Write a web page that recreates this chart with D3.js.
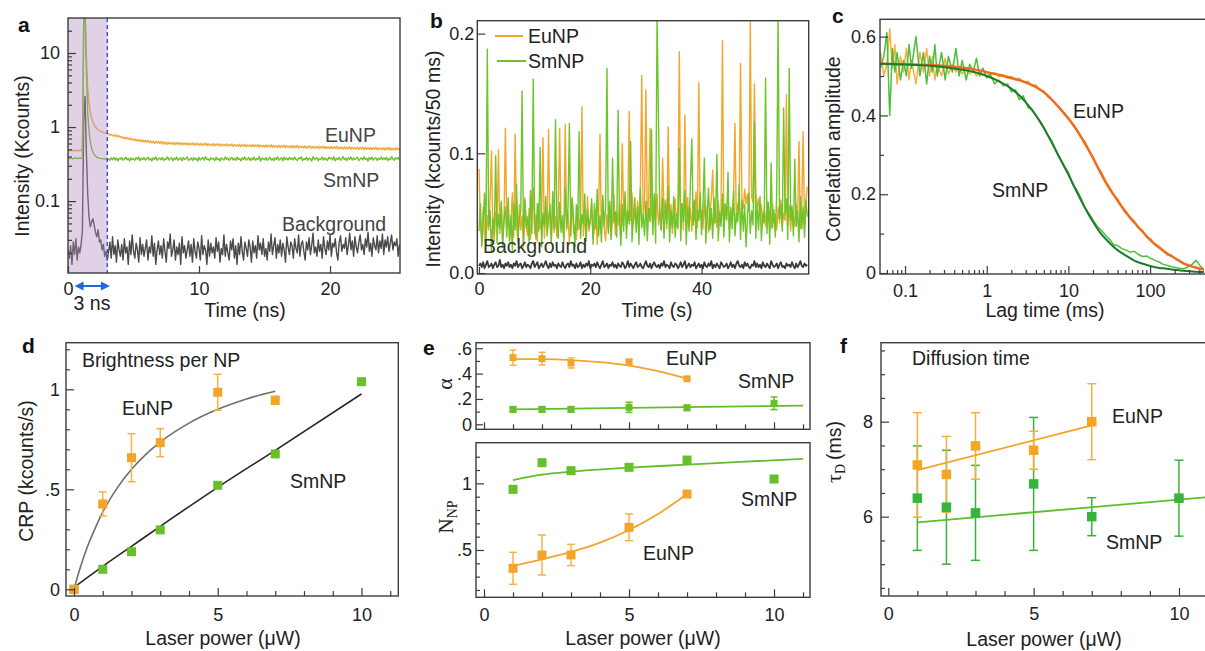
<!DOCTYPE html>
<html><head><meta charset="utf-8">
<script src="https://cdn.jsdelivr.net/npm/d3@7"></script>
<style>html,body{margin:0;padding:0;background:#fff;overflow:hidden}</style>
</head><body>
<script>
// ================= DATA =================
// (a) time-resolved emission, 0.1 ns bins, counts (1 Kcount = 1000)
const BIN_A = 0.1;
const decayEu = [485,478,490,482,476,488,480,483,479,486,481,
500,28000,40000,9000,3500,2100,1600,1330,1170,1070,1000,955,920,895,875,860,845,835,822,810,
812,775,801,760,790,748,779,738,762,726,
741,703,730,690,722,682,711,671,698,664,
692,648,681,640,676,633,669,628,662,625,
658,615,650,610,646,604,641,608,637,601,
638,592,630,588,627,583,622,590,618,585,
622,578,615,584,620,575,612,581,608,577,
610,572,604,579,611,568,603,575,599,570,
604,565,598,571,606,560,595,567,590,563,
597,558,591,566,599,553,588,561,585,557,
590,552,584,559,593,547,581,555,578,550,
584,546,578,553,587,541,575,549,572,544,
579,540,573,548,581,536,570,544,566,539,
573,535,567,542,576,530,564,538,561,533,
568,529,562,537,570,525,559,533,555,528,
562,524,557,531,565,520,553,528,550,522,
557,518,551,526,559,514,548,522,544,517,
552,513,546,520,554,509,543,517,539,511,
546,508,541,515,549,504,537,512,534,506,
541,503,536,510,544,499,532,507,529,501,
537,498,531,505,539,494,528,502,525,497,
533,494,527,501,535,490,524,498,521,493,
530,490,524,497,532,487,521,494,518,489,
527,492,515];
const decaySm = [380,376,384,378,372,386,379,381,374,383,377,
395,26000,36000,6000,1600,900,640,520,460,425,405,392,385,380,377,375,373,372,371,370,
371,356,385,362,390,359,381,350,377,368,
389,355,370,392,361,379,348,383,364,375,
357,386,366,394,352,378,362,388,358,374,
391,360,377,349,384,367,395,356,372,381,
362,389,353,376,366,397,358,374,386,351,
380,363,393,356,371,385,350,388,365,376,
396,355,368,382,353,387,364,378,347,390,
360,375,389,357,398,364,373,352,384,369,
379,351,392,361,375,348,386,370,358,395,
366,382,354,373,389,359,378,355,393,364,
375,350,384,367,394,358,371,389,353,380,
362,393,357,374,366,399,349,381,372,360,
388,355,370,391,359,377,352,386,365,396,
357,372,385,350,394,363,379,359,389,368,
381,361,393,366,354,386,373,397,351,375,
363,390,356,380,371,348,398,361,377,387,
352,375,366,392,358,383,369,355,391,372,
385,359,396,351,378,364,389,357,373,399,
362,380,353,387,368,394,358,382,364,376,
391,352,373,384,360,397,366,379,347,388,
367,393,358,376,386,354,380,364,395,361,
383,365,390,352,377,362,398,370,357,386,
369,388,361];
const decayBg = [22,17,25,14,28,19,31,16,24,20,26,
40,1200,2600,480,130,62,45,52,58,47,38,33,41,28,30,22,26,18,21,16,
21,28,17,33,19,25,15,30,22,18,
26,16,31,20,24,14,29,19,35,21,
17,27,22,15,32,19,26,18,23,30,
16,24,20,34,18,27,14,22,29,19,
25,17,31,21,15,28,23,36,18,22,
30,16,24,19,27,14,33,20,25,17,
22,29,18,26,15,31,21,17,28,23,
16,34,19,25,22,14,30,18,27,20,
24,17,32,21,28,15,23,19,35,18,
26,20,16,29,22,31,17,25,14,27,
19,33,21,16,28,23,18,30,24,15,
29,20,25,17,34,22,27,19,31,18,
23,16,28,21,36,19,25,32,17,26,
20,30,18,27,22,15,33,24,19,28,
25,17,31,23,20,35,18,26,29,21,
16,28,22,32,19,25,37,20,24,18,
30,21,26,17,33,23,19,29,22,35,
18,27,24,31,20,16,28,34,21,26,
23,32,19,25,37,22,29,18,33,24,
20,28,35,22,26,19,31,24,38,21,
27,18,32,25,22,34,20,29,23,36,
19,30,24,33,21,27,35,22,28,25,
31,18,26];

// (b) intensity traces, 0.25 s sampling, counts per 50 ms (1 kcount = 1000)
const BIN_B = 0.25;
const traceEu = [87,42,28,55,31,24,48,36,62,102,35,27,51,40,103,33,58,29,45,121,
38,52,26,44,67,30,116,41,25,57,36,48,22,63,39,31,54,28,46,71,
33,49,26,58,37,44,113,29,52,35,120,41,27,60,34,47,30,55,121,38,
43,28,124,36,51,25,47,62,33,40,28,56,37,45,139,31,50,27,64,35,
42,58,29,36,53,24,47,116,33,61,38,27,49,35,57,30,44,66,32,51,
40,58,36,108,47,62,39,55,135,44,67,41,52,38,60,45,71,165,48,57,
153,42,63,121,50,38,58,45,66,40,53,36,96,49,61,37,122,44,57,33,
48,62,39,55,185,43,58,36,132,47,63,40,54,35,59,44,68,38,159,46,
52,37,61,43,56,34,49,63,86,41,55,38,60,45,51,194,39,57,44,62,
36,53,47,65,125,42,58,49,175,61,54,70,58,66,52,210,63,59,158,68,
55,62,48,57,41,53,39,60,45,52,37,58,43,49,36,55,42,61,38,50,
44,149,40,56,35,52,47,39,58,43,110,37,54,118,41,60,72];
const traceSm = [35,58,22,41,67,28,187,39,52,18,46,33,98,25,49,37,60,21,44,55,
30,63,27,48,19,57,36,74,29,45,52,152,24,61,38,47,26,69,33,162,
42,28,58,35,105,22,50,39,64,31,46,57,25,68,37,128,43,29,59,34,
48,26,72,38,55,125,31,63,44,22,57,36,118,29,49,41,66,27,53,38,
45,62,24,58,37,70,31,48,26,65,39,54,171,33,60,28,96,42,51,30,
136,44,23,57,35,68,29,52,41,110,26,46,63,34,55,24,71,38,49,31,
60,27,54,43,120,32,66,25,215,132,47,36,62,29,57,41,73,26,52,38,
64,30,49,37,104,27,58,43,69,24,55,35,76,112,40,61,28,53,44,67,
32,57,96,25,48,71,36,54,29,63,42,99,27,51,39,66,30,58,45,84,
26,55,37,69,31,50,43,74,28,61,35,57,22,48,67,33,52,40,126,29,
58,36,64,27,50,42,163,33,59,24,92,38,53,30,66,215,45,57,35,138,
49,62,28,171,44,56,31,95,39,52,26,64,37,55,30,61,47];
const traceBg = [6,8,5,9,4,7,10,5,6,8,4,7,9,5,6,11,5,7,4,8,
6,9,5,7,4,8,6,10,5,7,8,4,6,9,5,7,6,4,8,10,
5,7,9,4,6,8,5,7,10,6,4,8,5,9,6,7,4,8,6,5,
9,6,4,7,8,5,10,6,7,4,8,5,6,9,4,7,5,8,6,10,
4,7,6,8,5,9,6,4,7,10,5,6,8,4,7,6,9,5,7,4,
8,6,5,9,7,4,6,10,5,8,6,4,7,9,5,6,8,5,4,7,
10,6,5,8,4,7,9,6,5,7,4,8,6,10,5,7,6,4,9,6,
5,8,7,4,6,9,5,7,10,4,6,8,5,7,6,9,4,6,8,5,
7,4,9,6,5,8,6,10,4,7,5,8,6,4,9,7,5,6,8,4,
6,9,5,7,4,8,10,6,5,7,4,9,6,8,5,4,7,6,10,5,
8,5,7,4,9,6,5,8,6,4,10,7,5,6,8,4,7,9,5,6,
4,8,6,7,5,9,6,4,8,5,7,10,6,5,8,6,7];

// (c) autocorrelation: lag times (ms), measured curves and fitted curves
const lagTimes = [0.050,0.055,0.060,0.065,0.070,0.075,0.080,0.088,0.096,0.104,
0.112,0.120,0.136,0.152,0.168,0.184,0.200,0.216,0.232,0.248,
0.28,0.31,0.34,0.38,0.42,0.46,0.50,0.56,0.62,0.68,
0.75,0.82,0.9,1.0,1.1,1.25,1.4,1.6,1.8,2.0,
2.25,2.5,2.8,3.2,3.6,4.0,4.5,5.0,5.6,6.3,
7.1,8.0,9.0,10,11.3,12.7,14.3,16,18,20,
22.6,25.4,28.6,32,36,40,45,51,57,64,
72,81,91,102,115,129,145,163,183,205,
230,258,290,326,366,411,460];
const corrSm = [0.52,0.55,0.61,0.40,0.57,0.51,0.56,0.49,0.54,0.50,
0.58,0.52,0.60,0.50,0.56,0.48,0.55,0.51,0.58,0.50,
0.56,0.49,0.55,0.51,0.57,0.50,0.54,0.49,0.53,0.51,
0.545,0.50,0.52,0.495,0.505,0.48,0.49,0.475,0.48,0.46,
0.465,0.44,0.45,0.42,0.415,0.40,0.385,0.37,0.35,0.335,
0.31,0.29,0.27,0.255,0.225,0.21,0.19,0.165,0.15,0.135,
0.118,0.108,0.095,0.085,0.072,0.070,0.062,0.058,0.053,0.055,
0.047,0.042,0.043,0.037,0.032,0.028,0.022,0.019,0.016,0.014,
0.012,0.011,0.015,0.022,0.032,0.018,0.008];
const corrEu = [0.56,0.50,0.53,0.62,0.52,0.58,0.48,0.55,0.51,0.57,
0.49,0.54,0.48,0.56,0.51,0.57,0.50,0.55,0.49,0.53,
0.50,0.545,0.505,0.53,0.51,0.525,0.505,0.52,0.505,0.515,
0.50,0.512,0.503,0.51,0.502,0.508,0.498,0.503,0.494,0.499,
0.49,0.495,0.484,0.487,0.475,0.478,0.463,0.462,0.447,0.44,
0.427,0.418,0.402,0.394,0.376,0.364,0.345,0.334,0.31,0.296,
0.27,0.256,0.232,0.218,0.198,0.188,0.168,0.157,0.14,0.132,
0.114,0.108,0.09,0.087,0.07,0.068,0.056,0.045,0.046,0.034,
0.033,0.024,0.022,0.016,0.015,0.011,0.009];
const fitLags = [0.05,0.1,0.2,0.4,0.7,1,1.5,2,3,4,5,6,8,10,12,15,20,25,30,40,50,65,80,100,130,160,200,260,330,460];
const fitSm = [0.531,0.529,0.526,0.519,0.510,0.500,0.484,0.468,0.434,0.400,0.368,0.338,0.288,0.250,0.216,0.176,0.130,0.100,0.082,0.058,0.045,0.031,0.024,0.018,0.013,0.011,0.008,0.006,0.004,0.0025];
const fitEu = [0.531,0.530,0.528,0.524,0.517,0.510,0.502,0.495,0.484,0.472,0.459,0.444,0.416,0.392,0.370,0.338,0.292,0.253,0.223,0.184,0.155,0.127,0.106,0.084,0.064,0.050,0.038,0.024,0.016,0.0085];

// (d) counts per particle vs laser power
const powerEuD = [0,1,2,3,5,7];
const crpEu = [0,0.427,0.658,0.733,0.985,0.945];
const crpEuErr = [0,0.06,0.12,0.07,0.09,0.02];
const powerSmD = [0,1,2,3,5,7,10];
const crpSm = [0,0.10,0.188,0.297,0.52,0.677,1.038];
const crpEuFitX = [0,0.1,0.25,0.5,0.75,1,1.5,2,2.5,3,4,5,6,7];
const crpEuFitY = [0,0.052,0.123,0.225,0.31,0.386,0.506,0.6,0.675,0.736,0.831,0.9,0.952,0.99];
const crpSmFitX = [0,1,2,3,5,7,10];
const crpSmFitY = [0.01,0.115,0.215,0.315,0.51,0.695,0.977];

// (e) alpha and number of particles vs laser power
const powerEu = [1,2,3,5,7];
const powerSm = [1,2,3,5,7,10];
const alphaEu = [0.526,0.518,0.484,0.492,0.359];
const alphaEuErr = [0.06,0.05,0.04,0.02,0.01];
const alphaSm = [0.118,0.118,0.118,0.134,0.13,0.166];
const alphaSmErr = [0.02,0.02,0.02,0.04,0.02,0.05];
const alphaEuFitX = [1,2,3,4,5,6,7];
const alphaEuFitY = [0.515,0.514,0.507,0.49,0.463,0.42,0.36];
const alphaSmFitX = [1,11];
const alphaSmFitY = [0.118,0.147];
const nnpEu = [0.3625,0.4625,0.4625,0.67,0.92];
const nnpEuErr = [0.12,0.15,0.08,0.1,0.02];
const nnpSm = [0.955,1.155,1.095,1.12,1.175,1.0325];
const nnpEuFitX = [1,2,3,4,5,6,7];
const nnpEuFitY = [0.38,0.43,0.485,0.555,0.65,0.77,0.92];
const nnpSmFitX = [1,2,3,5,7,9,11];
const nnpSmFitY = [1.025,1.065,1.088,1.118,1.14,1.163,1.183];

// (f) diffusion time vs laser power
const tauEu = [7.09,6.89,7.49,7.4,8.0];
const tauEuErr = [1.1,0.8,0.7,0.4,0.8];
const tauSm = [6.39,6.2,6.08,6.69,6.0,6.39];
const tauSmErr = [1.1,1.2,1.0,1.4,0.4,0.8];
const tauEuFitX = [1,7];
const tauEuFitY = [6.98,7.92];
const tauSmFitX = [1,11.3];
const tauSmFitY = [5.88,6.43];

// ================= DRAWING =================
const FONT = "'Liberation Sans', Arial, Helvetica, sans-serif";
const SERIF = "'Liberation Serif', 'Times New Roman', serif";
const INK = "#222";
const FRAME = "#3c3c3c";
const svg = d3.select("body").append("svg")
  .attr("width", 1205).attr("height", 651)
  .attr("font-family", FONT);

function clip(id, x0, y0, x1, y1) {
  svg.append("clipPath").attr("id", id).append("rect")
    .attr("x", x0).attr("y", y0).attr("width", x1 - x0).attr("height", y1 - y0);
}
function frame(x0, y0, x1, y1) {
  svg.append("rect").attr("x", x0).attr("y", y0).attr("width", x1 - x0).attr("height", y1 - y0)
    .attr("fill", "none").attr("stroke", FRAME).attr("stroke-width", 1.4);
}
function axis(kind, scale, pos, ticks, size, fmt, pad) {
  const gen = (kind === "bottom" ? d3.axisBottom : d3.axisLeft)(scale)
    .tickValues(ticks).tickSizeInner(-size).tickSizeOuter(0)
    .tickPadding(pad || 0).tickFormat(fmt || (() => ""));
  const g = svg.append("g")
    .attr("transform", kind === "bottom" ? `translate(0,${pos})` : `translate(${pos},0)`)
    .call(gen);
  g.attr("font-size", null).attr("font-family", null);
  g.select(".domain").remove();
  g.selectAll(".tick line").attr("stroke", FRAME).attr("stroke-width", 1.2);
  g.selectAll(".tick text").attr("font-size", 18).attr("fill", INK).attr("font-family", FONT);
  return g;
}
function txt(x, y, s, o = {}) {
  return svg.append("text").attr("x", x).attr("y", y).text(s)
    .attr("font-size", o.size || 19.5).attr("fill", o.fill || INK)
    .attr("text-anchor", o.anchor || "start")
    .attr("font-weight", o.weight || null);
}
function ytitle(x, y) {
  return svg.append("text").attr("transform", `translate(${x},${y}) rotate(-90)`)
    .attr("text-anchor", "middle").attr("font-size", 19.5).attr("fill", INK);
}
function letter(x, y, s) { txt(x, y, s, { size: 21, weight: "bold", fill: "#111" }); }
function path(d, stroke, width, clipId) {
  const p = svg.append("path").attr("d", d).attr("fill", "none")
    .attr("stroke", stroke).attr("stroke-width", width).attr("stroke-linejoin", "round");
  if (clipId) p.attr("clip-path", `url(#${clipId})`);
  return p;
}
function fitLine(xs, ys, xS, yS, color, width, curve) {
  const pts = xs.map((x, i) => [x, ys[i]]);
  const line = d3.line().x(d => xS(d[0])).y(d => yS(d[1])).curve(curve || d3.curveMonotoneX);
  path(line(pts), color, width);
}
function errorBars(xs, ys, es, xS, yS, color, cap) {
  const g = svg.append("g").attr("stroke", color).attr("stroke-width", 1.5);
  xs.forEach((x, i) => {
    if (!es[i]) return;
    const cx = xS(x), t = yS(ys[i] + es[i]), b = yS(ys[i] - es[i]);
    g.append("line").attr("x1", cx).attr("x2", cx).attr("y1", t).attr("y2", b);
    g.append("line").attr("x1", cx - cap).attr("x2", cx + cap).attr("y1", t).attr("y2", t);
    g.append("line").attr("x1", cx - cap).attr("x2", cx + cap).attr("y1", b).attr("y2", b);
  });
}
function squares(xs, ys, xS, yS, size, color) {
  svg.append("g").selectAll("rect").data(xs.map((x, i) => [x, ys[i]])).join("rect")
    .attr("x", d => xS(d[0]) - size / 2).attr("y", d => yS(d[1]) - size / 2)
    .attr("width", size).attr("height", size).attr("fill", color);
}

const ORANGE = "#f3a42b";
const GREEN = "#67bf2a";

// ---------- (a) ----------
{
  const x = d3.scaleLinear().domain([0, 25.34]).range([68, 400]);
  const y = d3.scaleLog().domain([0.0107, 29.7]).range([273, 18]);
  clip("clipA", 68, 18, 400, 273);
  const line = d3.line().x((d, i) => x(i * BIN_A)).y(d => y(d / 1000));
  path(line(decayBg), "#4a4a4a", 1.4, "clipA");
  path(line(decayEu), "#f2a834", 1.4, "clipA");
  path(line(decaySm), "#6cc12a", 1.4, "clipA");
  // gating window
  svg.append("rect").attr("x", x(0)).attr("y", 18).attr("width", x(3) - x(0)).attr("height", 255)
    .attr("fill", "#b48cc0").attr("opacity", 0.4);
  svg.append("line").attr("x1", x(3)).attr("x2", x(3)).attr("y1", 18).attr("y2", 273)
    .attr("stroke", "#3050c8").attr("stroke-width", 1.4).attr("stroke-dasharray", "4,3");
  frame(68, 18, 400, 273);
  axis("left", y, 68, [0.1, 1, 10], 8, d => (d === 0.1 ? "0.1" : String(d)), 8);
  axis("left", y, 68, [0.02,0.03,0.04,0.05,0.06,0.07,0.08,0.09,0.2,0.3,0.4,0.5,0.6,0.7,0.8,0.9,2,3,4,5,6,7,8,9,20], 4);
  axis("bottom", x, 273, [0, 10, 20], 7, d3.format("d"), 9);
  // 3 ns arrow
  const ay = 286, ax0 = x(0.5), ax1 = x(3.2);
  svg.append("line").attr("x1", ax0 + 5).attr("x2", ax1 - 5).attr("y1", ay).attr("y2", ay)
    .attr("stroke", "#2266dd").attr("stroke-width", 2);
  svg.append("path").attr("d", `M${ax0},${ay}L${ax0 + 9},${ay - 4.5}L${ax0 + 9},${ay + 4.5}Z`).attr("fill", "#2266dd");
  svg.append("path").attr("d", `M${ax1},${ay}L${ax1 - 9},${ay - 4.5}L${ax1 - 9},${ay + 4.5}Z`).attr("fill", "#2266dd");
  txt(92, 310, "3 ns", { anchor: "middle" });
  txt(245, 317, "Time (ns)", { anchor: "middle" });
  ytitle(29, 156).text("Intensity (Kcounts)");
  txt(325, 142, "EuNP", { fill: "#444" });
  txt(323, 187, "SmNP", { fill: "#444" });
  txt(282, 231, "Background", { fill: "#444" });
  letter(18, 32, "a");
}

// ---------- (b) ----------
{
  const x = d3.scaleLinear().domain([-0.3, 59.25]).range([477.3, 808.7]);
  const y = d3.scaleLinear().domain([-0.0008, 0.2108]).range([274, 20.7]);
  clip("clipB", 477.3, 20.7, 808.7, 274);
  const line = d3.line().x((d, i) => x(i * BIN_B)).y(d => y(d / 1000));
  path(line(traceEu), "#f3a52c", 1.4, "clipB");
  path(line(traceSm), "#6ec52a", 1.4, "clipB");
  path(line(traceBg), "#3a3a3a", 1.8, "clipB");
  frame(477.3, 20.7, 808.7, 274);
  axis("left", y, 477.3, [0, 0.1, 0.2], 8, d3.format(".1f"), 3);
  axis("bottom", x, 274, [0, 20, 40], 7, d3.format("d"), 8);
  path(`M495,36H523`, "#f3a52c", 2);
  path(`M497,61H526`, "#6ec52a", 2);
  txt(528, 43, "EuNP");
  txt(528, 68, "SmNP");
  txt(483, 253, "Background", { fill: "#2c3a22" });
  txt(657, 317, "Time (s)", { anchor: "middle" });
  ytitle(440, 159).text("Intensity (kcounts/50 ms)");
  letter(430, 28, "b");
}

// ---------- (c) ----------
{
  const x = d3.scaleLog().domain([0.0494, 457]).range([880, 1204]);
  const y = d3.scaleLinear().domain([-0.0025, 0.644]).range([274, 19.3]);
  clip("clipC", 880, 19.3, 1204, 274);
  const line = d3.line().x((d, i) => x(lagTimes[i])).y(d => y(d));
  path(line(corrEu), "#f5b040", 1.5, "clipC");
  path(line(corrSm), "#4cbf3c", 1.5, "clipC");
  const fl = d3.line().x((d, i) => x(fitLags[i])).y(d => y(d)).curve(d3.curveMonotoneX);
  path(fl(fitEu), "#f06a1e", 2.4, "clipC");
  path(fl(fitSm), "#1e7a2e", 2, "clipC");
  frame(880, 19.3, 1212, 274);
  axis("left", y, 880, [0, 0.2, 0.4, 0.6], 8, d => (d === 0 ? "0" : d.toFixed(1)), 4);
  axis("left", y, 880, [0.1, 0.3, 0.5], 4);
  axis("bottom", x, 274, [0.1, 1, 10, 100], 8, d => String(d), 10);
  axis("bottom", x, 274, [0.06,0.07,0.08,0.09,0.2,0.3,0.4,0.5,0.6,0.7,0.8,0.9,2,3,4,5,6,7,8,9,20,30,40,50,60,70,80,90,200,300,400], 4);
  txt(1073, 118, "EuNP");
  txt(992, 197, "SmNP");
  txt(1045, 317, "Lag time (ms)", { anchor: "middle" });
  ytitle(840, 149).text("Correlation amplitude");
  letter(832, 23, "c");
}

// ---------- (d) ----------
{
  const x = d3.scaleLinear().domain([-0.278, 11.28]).range([66, 398.3]);
  const y = d3.scaleLinear().domain([-0.0335, 1.233]).range([596, 342.7]);
  fitLine(crpSmFitX, crpSmFitY, x, y, "#262626", 1.6);
  fitLine(crpEuFitX, crpEuFitY, x, y, "#6e6e6e", 1.6);
  errorBars(powerEuD, crpEu, crpEuErr, x, y, "#f5b444", 4);
  squares(powerSmD, crpSm, x, y, 9, GREEN);
  squares(powerEuD, crpEu, x, y, 9, ORANGE);
  frame(66, 342.7, 398.3, 596);
  axis("left", y, 66, [0, 0.5, 1], 8, d => (d === 0 ? "0" : d === 0.5 ? ".5" : "1"), 6);
  axis("left", y, 66, [0.1,0.2,0.3,0.4,0.6,0.7,0.8,0.9,1.1,1.2], 4);
  axis("bottom", x, 596, [0, 5, 10], 8, d3.format("d"), 12);
  axis("bottom", x, 596, [1,2,3,4,6,7,8,9,11], 5);
  txt(82, 367, "Brightness per NP");
  txt(122, 415, "EuNP");
  txt(290, 488, "SmNP");
  txt(223, 645, "Laser power (\u03bcW)", { anchor: "middle" });
  ytitle(33, 471).text("CRP (kcounts/s)");
  letter(22, 353, "d");
}

// ---------- (e) ----------
{
  const x = d3.scaleLinear().domain([-0.276, 11.24]).range([476, 810]);
  const yT = d3.scaleLinear().domain([-0.0395, 0.644]).range([429.3, 342.7]);
  const yB = d3.scaleLinear().domain([0.145, 1.305]).range([597.3, 442.7]);
  // alpha
  fitLine(alphaSmFitX, alphaSmFitY, x, yT, "#62be2a", 1.8, d3.curveLinear);
  fitLine(alphaEuFitX, alphaEuFitY, x, yT, ORANGE, 1.8);
  errorBars(powerSm, alphaSm, alphaSmErr, x, yT, GREEN, 3.5);
  errorBars(powerEu, alphaEu, alphaEuErr, x, yT, "#f5b444", 3.5);
  squares(powerSm, alphaSm, x, yT, 7, GREEN);
  squares(powerEu, alphaEu, x, yT, 7, ORANGE);
  frame(476, 342.7, 810, 429.3);
  axis("left", yT, 476, [0, 0.2, 0.4, 0.6], 7, d => (d === 0 ? "0" : "." + Math.round(d * 10)), 4);
  axis("left", yT, 476, [0.1, 0.3, 0.5], 4);
  axis("bottom", x, 429.3, [0, 5, 10], 7);
  axis("bottom", x, 429.3, [1,2,3,4,6,7,8,9,11], 5);
  // number of particles
  fitLine(nnpSmFitX, nnpSmFitY, x, yB, "#62be2a", 1.8);
  fitLine(nnpEuFitX, nnpEuFitY, x, yB, ORANGE, 1.8);
  errorBars(powerEu, nnpEu, nnpEuErr, x, yB, "#f5b444", 4);
  squares(powerSm, nnpSm, x, yB, 9, GREEN);
  squares(powerEu, nnpEu, x, yB, 9, ORANGE);
  frame(476, 442.7, 810, 597.3);
  axis("left", yB, 476, [0.5, 1], 8, d => (d === 1 ? "1" : ".5"), 4);
  axis("left", yB, 476, [0.2,0.3,0.4,0.6,0.7,0.8,0.9,1.1,1.2], 4);
  axis("bottom", x, 597.3, [0, 5, 10], 8, d3.format("d"), 11);
  axis("bottom", x, 597.3, [1,2,3,4,6,7,8,9,11], 5);
  txt(666, 365, "EuNP");
  txt(738, 388, "SmNP");
  txt(741, 506, "SmNP");
  txt(643, 560, "EuNP");
  txt(643, 645, "Laser power (\u03bcW)", { anchor: "middle" });
  svg.append("text").attr("transform", "translate(452,384) rotate(-90)").attr("text-anchor", "middle")
    .attr("font-family", SERIF).attr("font-size", 22).attr("fill", INK).text("\u03b1");
  const nt = svg.append("text").attr("transform", "translate(453,517) rotate(-90)").attr("text-anchor", "middle")
    .attr("font-family", SERIF).attr("fill", INK);
  nt.append("tspan").attr("font-size", 21).text("N");
  nt.append("tspan").attr("font-size", 14).attr("dy", 4).text("NP");
  letter(423, 355, "e");
}

// ---------- (f) ----------
{
  const x = d3.scaleLinear().domain([-0.251, 11.24]).range([881, 1215]);
  const y = d3.scaleLinear().domain([4.33, 9.663]).range([596, 342.7]);
  const G = "#36b43c", O = "#f5a524";
  errorBars(powerSm, tauSm, tauSmErr, x, y, G, 4.5);
  errorBars(powerEu, tauEu, tauEuErr, x, y, "#f4b03e", 4.5);
  fitLine(tauSmFitX, tauSmFitY, x, y, "#5cbf2a", 1.8, d3.curveLinear);
  fitLine(tauEuFitX, tauEuFitY, x, y, O, 1.8, d3.curveLinear);
  squares(powerSm, tauSm, x, y, 9.5, G);
  squares(powerEu, tauEu, x, y, 9.5, O);
  frame(881, 342.7, 1215, 596);
  axis("left", y, 881, [6, 8], 8, d3.format("d"), 8);
  axis("left", y, 881, [4.5,5,5.5,6.5,7,7.5,8.5,9,9.5], 4);
  axis("bottom", x, 596, [0, 5, 10], 8, d3.format("d"), 11);
  axis("bottom", x, 596, [1,2,3,4,6,7,8,9,11], 5);
  txt(912, 365, "Diffusion time");
  txt(1112, 423, "EuNP");
  txt(1106, 549, "SmNP");
  txt(1044, 646, "Laser power (\u03bcW)", { anchor: "middle" });
  const tt = svg.append("text").attr("transform", "translate(841,452) rotate(-90)").attr("text-anchor", "middle").attr("fill", INK);
  tt.append("tspan").attr("font-family", SERIF).attr("font-size", 22).text("\u03c4");
  tt.append("tspan").attr("font-family", SERIF).attr("font-size", 14).attr("dy", 4).text("D");
  tt.append("tspan").attr("font-size", 19.5).attr("dy", -4).text("\u2009(ms)");
  letter(840, 353, "f");
}
</script>
</body></html>
